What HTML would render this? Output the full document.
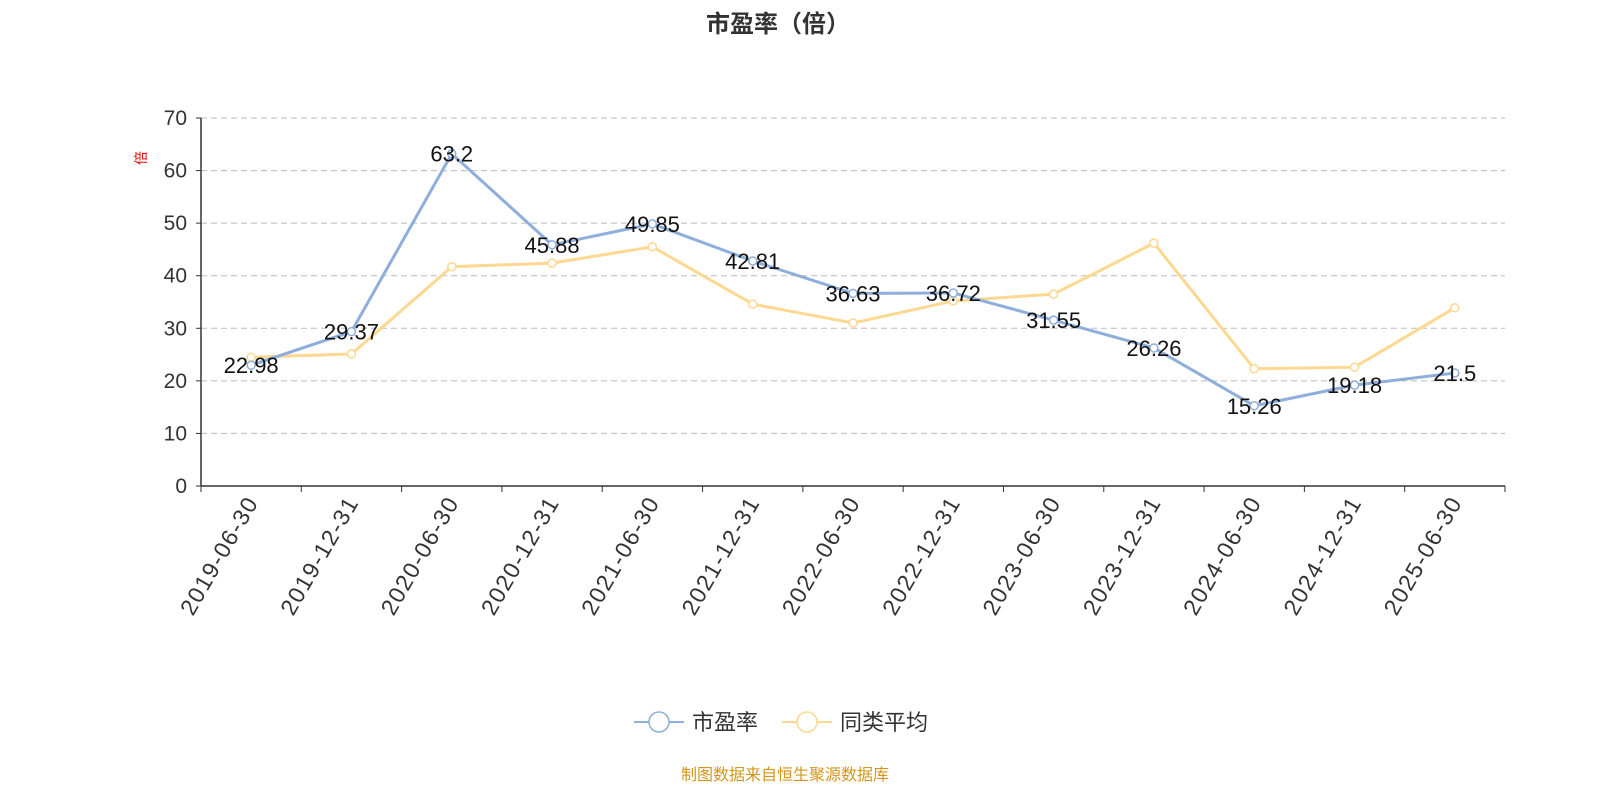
<!DOCTYPE html>
<html><head><meta charset="utf-8"><style>
body{margin:0;background:#fff;width:1600px;height:800px;overflow:hidden;font-family:"Liberation Sans","Noto Sans CJK SC",sans-serif}
</style></head><body>
<svg id="chart" width="1600" height="800" xmlns="http://www.w3.org/2000/svg" font-family="Liberation Sans, Noto Sans CJK SC, sans-serif">
<text x="778" y="32" text-anchor="middle" font-size="24" font-weight="bold" fill="#333">市盈率（倍）</text>
<text x="0" y="0" transform="translate(146,158) rotate(-90)" text-anchor="middle" font-size="14" fill="#e00">倍</text>
<g id="grid"></g><g id="axes"></g><g id="series"></g>
<g>
<g><line x1="634" y1="722" x2="684" y2="722" stroke="#8eaedb" stroke-width="2"/><circle cx="659" cy="722" r="10" fill="#fff" stroke="#8eaedb" stroke-width="1.5"/><text x="692" y="730" font-size="22" fill="#333">市盈率</text></g>
<g><line x1="782" y1="722" x2="832" y2="722" stroke="#fcd891" stroke-width="2"/><circle cx="807" cy="722" r="10" fill="#fff" stroke="#fcd891" stroke-width="1.5"/><text x="840" y="730" font-size="22" fill="#333">同类平均</text></g>
</g>
<text x="785" y="780" text-anchor="middle" font-size="16" fill="#d4951c">制图数据来自恒生聚源数据库</text>
</svg>
<script>
const categories=["2019-06-30","2019-12-31","2020-06-30","2020-12-31","2021-06-30","2021-12-31","2022-06-30","2022-12-31","2023-06-30","2023-12-31","2024-06-30","2024-12-31","2025-06-30"];
const peValues=[22.98,29.37,63.2,45.88,49.85,42.81,36.63,36.72,31.55,26.26,15.26,19.18,21.5];
const peerAvgValues=[24.5,25.1,41.7,42.4,45.5,34.6,31.0,35.2,36.5,46.2,22.3,22.6,33.9];
const yTicks=[0,10,20,30,40,50,60,70];
const NS="http://www.w3.org/2000/svg";
const X0=201,X1=1505,Y0=486,Y1=118,YMAX=70;
const bw=(X1-X0)/categories.length;
const xs=i=>X0+bw*(i+0.5);
const ys=v=>Y0-(v/YMAX)*(Y0-Y1);
function mk(t,a,p){const e=document.createElementNS(NS,t);for(const k in a)e.setAttribute(k,a[k]);p.appendChild(e);return e;}
const grid=document.getElementById('grid'),axes=document.getElementById('axes'),ser=document.getElementById('series');
yTicks.forEach(v=>{
 if(v>0){const g=mk('line',{x1:X0,x2:X1,y1:ys(v),y2:ys(v),stroke:'#bbb','stroke-dasharray':'6,4'},grid);
 
 }
 const t=mk('text',{x:X0-14,y:ys(v)+7,'text-anchor':'end','font-size':21,fill:'#333'},axes);t.textContent=v;
 
 
 mk('line',{x1:X0-5,x2:X0,y1:ys(v),y2:ys(v),stroke:'#333'},axes);
});
const ya=mk('line',{x1:X0,x2:X0,y1:Y1,y2:Y0,stroke:'#333','stroke-width':1.5},axes);


const xa=mk('line',{x1:X0,x2:X1,y1:Y0,y2:Y0,stroke:'#333','stroke-width':1.5},axes);


for(let i=0;i<=categories.length;i++)mk('line',{x1:X0+bw*i,x2:X0+bw*i,y1:Y0,y2:Y0+6,stroke:'#333'},axes);
categories.forEach((c,i)=>{
 const t=mk('text',{transform:`translate(${xs(i)+8},${Y0+16}) rotate(-60)`,'text-anchor':'end','font-size':23,'letter-spacing':1.5,fill:'#333'},axes);t.textContent=c;
 
 
});
function series(vals,color,name,labels){
 const g=mk('g',{},ser);
 
 
 mk('polyline',{points:vals.map((v,i)=>xs(i)+','+ys(v)).join(' '),fill:'none',stroke:color,'stroke-width':3},g);
 vals.forEach((v,i)=>{
  const c=mk('circle',{cx:xs(i),cy:ys(v),r:4,fill:'#fff',stroke:color,'stroke-width':1.5},g);
  
  
  if(labels){const t=mk('text',{x:xs(i),y:ys(v)+8,'text-anchor':'middle','font-size':22,fill:'#111'},g);t.textContent=v;
  
  }
 });
}
series(peerAvgValues,'#fcd891','peer-average-line',false);
series(peValues,'#8eaedb','pe-line',true);
</script>
</body></html>
